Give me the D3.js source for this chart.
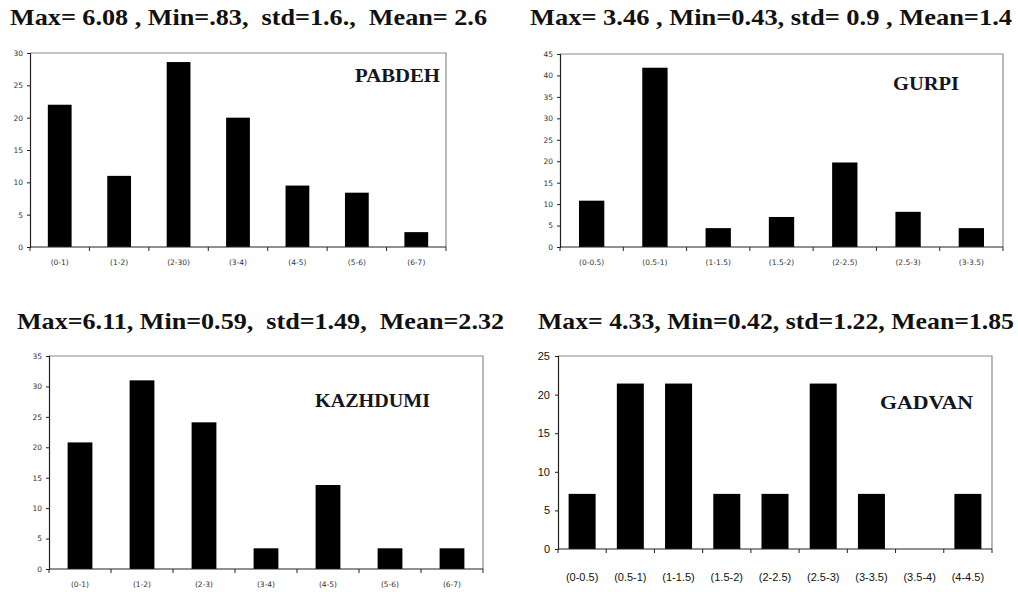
<!doctype html>
<html>
<head>
  <meta charset="utf-8">
  <script src="https://cdnjs.cloudflare.com/ajax/libs/d3/7.8.5/d3.min.js"></script>
  <style>
    body { margin: 0; background: #fff; }
    svg { display: block; }
    .small text { font-family: "DejaVu Sans", Verdana, sans-serif; font-size: 7.5px; fill: #333; }
    .arial text { font-family: "Liberation Sans", Arial, sans-serif; font-size: 11px; fill: #111; }
  </style>
</head>
<body>
<svg id="chart" width="1018" height="592"></svg>
<script>
  // PABDEH
  var pabdehCats = ["(0-1)", "(1-2)", "(2-30)", "(3-4)", "(4-5)", "(5-6)", "(6-7)"];
  var pabdehVals = [22, 11, 28.6, 20, 9.5, 8.4, 2.3];
  var pabdehTicks = [0, 5, 10, 15, 20, 25, 30];
  var pabdehStats = "Max= 6.08 , Min=.83,  std=1.6.,  Mean= 2.6";

  // GURPI
  var gurpiCats = ["(0-0.5)", "(0.5-1)", "(1-1.5)", "(1.5-2)", "(2-2.5)", "(2.5-3)", "(3-3.5)"];
  var gurpiVals = [10.8, 41.8, 4.4, 7.0, 19.7, 8.2, 4.4];
  var gurpiTicks = [0, 5, 10, 15, 20, 25, 30, 35, 40, 45];
  var gurpiStats = "Max= 3.46 , Min=0.43, std= 0.9 , Mean=1.4";

  // KAZHDUMI
  var kazhCats = ["(0-1)", "(1-2)", "(2-3)", "(3-4)", "(4-5)", "(5-6)", "(6-7)"];
  var kazhVals = [20.8, 31, 24.1, 3.4, 13.8, 3.4, 3.4];
  var kazhTicks = [0, 5, 10, 15, 20, 25, 30, 35];
  var kazhStats = "Max=6.11, Min=0.59,  std=1.49,  Mean=2.32";

  // GADVAN
  var gadvanCats = ["(0-0.5)", "(0.5-1)", "(1-1.5)", "(1.5-2)", "(2-2.5)", "(2.5-3)", "(3-3.5)", "(3.5-4)", "(4-4.5)"];
  var gadvanVals = [7.14, 21.43, 21.43, 7.14, 7.14, 21.43, 7.14, 0, 7.14];
  var gadvanTicks = [0, 5, 10, 15, 20, 25];
  var gadvanStats = "Max= 4.33, Min=0.42, std=1.22, Mean=1.85";

  // layout for each panel
  var panels = [
    {name: "PABDEH", cats: pabdehCats, vals: pabdehVals, ticks: pabdehTicks, stats: pabdehStats,
     x0: 30, x1: 446, y0: 53, y1: 247, pad: 0.6, cls: "small", labY: 265,
     hx: 10, hw: 477, hy: 25, tx: 355, tw: 85, ty: 82},
    {name: "GURPI", cats: gurpiCats, vals: gurpiVals, ticks: gurpiTicks, stats: gurpiStats,
     x0: 560, x1: 1003, y0: 54, y1: 247, pad: 0.6, cls: "small", labY: 265,
     hx: 530, hw: 482, hy: 25, tx: 893, tw: 66, ty: 90},
    {name: "KAZHDUMI", cats: kazhCats, vals: kazhVals, ticks: kazhTicks, stats: kazhStats,
     x0: 49, x1: 483, y0: 356, y1: 569, pad: 0.6, cls: "small", labY: 587,
     hx: 17, hw: 487, hy: 329, tx: 315, tw: 115, ty: 407},
    {name: "GADVAN", cats: gadvanCats, vals: gadvanVals, ticks: gadvanTicks, stats: gadvanStats,
     x0: 558, x1: 992, y0: 356, y1: 549, pad: 0.44, cls: "arial", labY: 581,
     hx: 538, hw: 476, hy: 329, tx: 880, tw: 93, ty: 409}
  ];

  var serif = "'Liberation Serif', 'Times New Roman', 'DejaVu Serif', serif";
  var svg = d3.select("#chart");

  panels.forEach(function(p) {
    var x = d3.scaleBand().domain(p.cats).range([p.x0, p.x1]).paddingInner(p.pad).paddingOuter(p.pad / 2);
    var y = d3.scaleLinear().domain([0, d3.max(p.ticks)]).range([p.y1, p.y0]);
    var g = svg.append("g").attr("class", p.cls);

    // frame (top + right in gray)
    g.append("path")
      .attr("d", "M" + p.x0 + "," + p.y0 + "H" + p.x1 + "V" + p.y1)
      .attr("fill", "none").attr("stroke", "#8a8a8a").attr("stroke-width", 1.2);

    g.selectAll("rect.bar").data(p.vals).enter().append("rect")
      .attr("class", "bar")
      .attr("x", function(d, i) { return x(p.cats[i]); })
      .attr("width", x.bandwidth())
      .attr("y", function(d) { return y(d); })
      .attr("height", function(d) { return y(0) - y(d); })
      .attr("fill", "#000");

    // y axis
    var ya = g.append("g").attr("transform", "translate(" + p.x0 + ",0)")
      .call(d3.axisLeft(y).tickValues(p.ticks).tickSize(3).tickPadding(p.cls == "arial" ? 5 : 4));
    ya.select(".domain").attr("stroke", "#222").attr("stroke-width", 1.2);
    ya.selectAll(".tick line").attr("stroke", "#222");
    ya.attr("font-family", null).attr("font-size", null);

    // x axis with ticks between categories
    g.append("line").attr("x1", p.x0).attr("x2", p.x1).attr("y1", p.y1).attr("y2", p.y1)
      .attr("stroke", "#222").attr("stroke-width", 1.2);
    var bounds = d3.range(p.cats.length + 1).map(function(i) { return p.x0 + i * (p.x1 - p.x0) / p.cats.length; });
    g.selectAll("line.xt").data(bounds).enter().append("line")
      .attr("class", "xt")
      .attr("x1", function(d) { return d; }).attr("x2", function(d) { return d; })
      .attr("y1", p.y1).attr("y2", p.y1 + 4)
      .attr("stroke", "#222");
    g.selectAll("text.xl").data(p.cats).enter().append("text")
      .attr("class", "xl")
      .attr("x", function(d) { return x(d) + x.bandwidth() / 2; })
      .attr("y", p.labY)
      .attr("text-anchor", "middle")
      .text(function(d) { return d; });

    // formation name
    svg.append("text")
      .attr("x", p.tx).attr("y", p.ty)
      .attr("font-family", serif).attr("font-weight", "bold").attr("font-size", 18)
      .attr("fill", "#151520")
      .attr("textLength", p.tw).attr("lengthAdjust", "spacingAndGlyphs")
      .text(p.name);

    // statistics heading
    svg.append("text")
      .attr("x", p.hx).attr("y", p.hy)
      .attr("font-family", serif).attr("font-weight", "bold").attr("font-size", 24)
      .attr("fill", "#111")
      .style("white-space", "pre")
      .attr("textLength", p.hw).attr("lengthAdjust", "spacingAndGlyphs")
      .text(p.stats);
  });
</script>
</body>
</html>
